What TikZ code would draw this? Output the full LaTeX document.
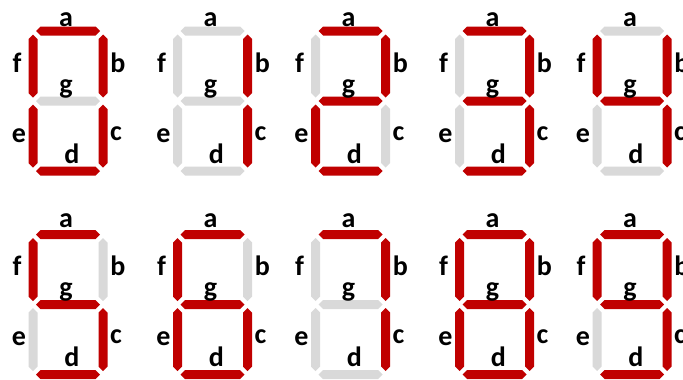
\documentclass[tikz,border=0pt]{standalone}
\usepackage{fontspec}
\setmainfont{Carlito}
\definecolor{segred}{HTML}{C00000}
\definecolor{seggray}{HTML}{D9D9D9}
\tikzset{
  segon/.style={fill=segred},
  segoff/.style={fill=seggray},
  lbl/.style={font=\fontsize{28}{30}\selectfont\bfseries, inner sep=0pt, anchor=base, text=black},
  hbar/.pic={\path[pic actions] (3,0) -- (7.5,-4.5) -- (62.5,-4.5) -- (67,0) -- (62.5,4.5) -- (7.5,4.5) -- cycle;},
  vbar/.pic={\path[pic actions] (0,3.5) -- (4.5,8) -- (4.5,62) -- (0,66.5) -- (-4.5,62) -- (-4.5,8) -- cycle;},
}
\newcommand\AOff{-4}
% #1 name, #2 (L,T), #3..#9 styles of segments a,b,c,d,e,f,g
\newcommand\SevSeg[9]{%
  \begin{scope}[shift={#2}]
    \pic[#3] at (0,0) {hbar};
    \pic[#4] at (70,0) {vbar};
    \pic[#5] at (70,70) {vbar};
    \pic[#6] at (0,140) {hbar};
    \pic[#7] at (0,70) {vbar};
    \pic[#8] at (0,0) {vbar};
    \pic[#9] at (0,70) {hbar};
    \node[lbl] (#1a) at (33,\AOff) {a};
    \node[lbl] (#1f) at (-16,41) {f};
    \node[lbl] (#1b) at (85,41) {b};
    \node[lbl] (#1g) at (33,62) {g};
    \node[lbl] (#1e) at (-14,111) {e};
    \node[lbl] (#1c) at (83,109) {c};
    \node[lbl] (#1d) at (39,132) {d};
  \end{scope}}
\begin{document}
\begin{tikzpicture}[x=1pt,y=-1pt]
  \path[use as bounding box] (0,0) rectangle (683,380);
  \clip (0,0) rectangle (683,380);
  \fill[white] (0,0) rectangle (683,380);
  % top row: 0 1 2 3 4
  \SevSeg{dz}{(33,31)}{segon}{segon}{segon}{segon}{segon}{segon}{segoff}
  \SevSeg{da}{(177.5,31)}{segoff}{segon}{segon}{segoff}{segoff}{segoff}{segoff}
  \SevSeg{db}{(315.5,31)}{segon}{segon}{segoff}{segon}{segon}{segoff}{segon}
  \SevSeg{dc}{(459.5,31)}{segon}{segon}{segon}{segon}{segoff}{segoff}{segon}
  \SevSeg{dd}{(597,31)}{segoff}{segon}{segon}{segoff}{segoff}{segon}{segon}
  % bottom row: 5 6 7 8 9
  \renewcommand\AOff{-7}
  \SevSeg{de}{(33,234.5)}{segon}{segoff}{segon}{segon}{segoff}{segon}{segon}
  \SevSeg{df}{(177.5,234.5)}{segon}{segoff}{segon}{segon}{segon}{segon}{segon}
  \SevSeg{dg}{(315.5,234.5)}{segon}{segon}{segon}{segoff}{segoff}{segoff}{segoff}
  \SevSeg{dh}{(459.5,234.5)}{segon}{segon}{segon}{segon}{segon}{segon}{segon}
  \SevSeg{di}{(597,234.5)}{segon}{segon}{segon}{segon}{segoff}{segon}{segon}
\end{tikzpicture}
\end{document}
